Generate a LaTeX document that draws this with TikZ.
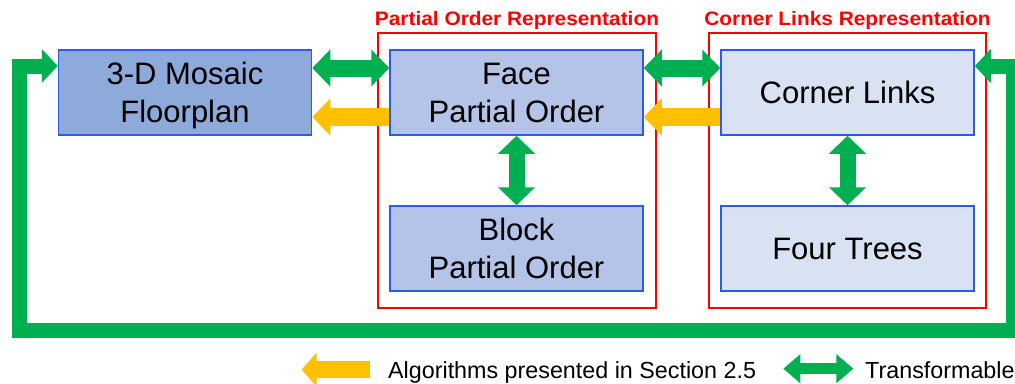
\documentclass[tikz,border=0pt]{standalone}
\usepackage{fontspec}
\setmainfont{Liberation Sans}
\newfontfamily\titlefont[FakeStretch=1.07]{Liberation Sans}
\usetikzlibrary{arrows.meta}

\definecolor{boxblue}{HTML}{2A5CE8}
\definecolor{mosaicfill}{HTML}{8EAADB}
\definecolor{pofill}{HTML}{B4C4E8}
\definecolor{clfill}{HTML}{D9E2F3}
\definecolor{tgreen}{HTML}{00B050}
\definecolor{ayellow}{HTML}{FFC000}
\definecolor{grpred}{HTML}{FF0000}

\tikzset{
  blockbox/.style={draw=boxblue, line width=1.5pt, minimum width=253pt,
    minimum height=85pt, inner sep=0pt, align=center, text depth=0pt,
    font=\fontsize{31}{38}\selectfont},
  groupbox/.style={draw=grpred, line width=1.3pt, inner sep=0pt},
  grouptitle/.style={text=grpred, inner sep=0pt, anchor=base,
    font=\fontsize{19.5}{23}\titlefont\bfseries},
  twoway/.style={draw=tgreen, line width=17pt,
    arrows={Triangle[width=36pt,length=18pt]-Triangle[width=36pt,length=18pt]}},
  oneway/.style={draw=ayellow, line width=18pt,
    arrows={-Triangle[width=36pt,length=18pt]}},
  loopback/.style={draw=tgreen, line width=15pt, line join=miter,
    arrows={Triangle[width=33pt,length=16pt]-Triangle[width=33pt,length=16pt]}},
  legendtext/.style={anchor=base west, inner sep=0pt,
    font=\fontsize{23.3}{28}\selectfont},
}

\begin{document}
\begin{tikzpicture}[x=1pt,y=-1pt]
\useasboundingbox (0,0) rectangle (1015,383);
\clip (0,0) rectangle (1015,383);

% representation groups
\node[groupbox, minimum width=278pt, minimum height=275pt] (pogroup) at (517,170.5) {};
\node[groupbox, minimum width=277pt, minimum height=275pt] (clgroup) at (847.5,170.5) {};
\node[grouptitle] (potitle) at (517,25) {Partial Order Representation};
\node[grouptitle] (cltitle) at (847.5,25) {Corner Links Representation};

% the five data structures
\node[blockbox, fill=mosaicfill] (mosaic) at (185,92.5) {3-D Mosaic\\Floorplan};
\node[blockbox, fill=pofill] (face) at (516.5,92.5) {Face\\Partial Order};
\node[blockbox, fill=pofill] (block) at (516.5,248.5) {Block\\Partial Order};
\node[blockbox, fill=clfill] (corner) at (847.5,92.5) {Corner Links};
\node[blockbox, fill=clfill] (trees) at (847.5,248.5) {Four Trees};

% transformations between representations
\draw[twoway] ([yshift=24.5pt]mosaic.east) -- ([yshift=24.5pt]face.west);
\draw[twoway] ([yshift=24.5pt]face.east) -- ([yshift=24.5pt]corner.west);
\draw[oneway] ([yshift=-24.5pt]face.west) -- ([yshift=-24.5pt]mosaic.east);
\draw[oneway] ([yshift=-24.5pt]corner.west) -- ([yshift=-24.5pt]face.east);
\draw[twoway, line width=16pt] (face.south) -- (block.north);
\draw[twoway, line width=16pt] (corner.south) -- (trees.north);

% outer loop from corner links back to the floorplan
\coordinate (loopNE) at (1013,66);
\coordinate (loopSE) at (1013,330.5);
\coordinate (loopSW) at (19,330.5);
\coordinate (loopNW) at (19,66);
\draw[loopback] ([yshift=26.5pt]corner.east) -- (loopNE) -- (loopSE)
  -- (loopSW) -- (loopNW) -- ([yshift=26.5pt]mosaic.west);

% legend
\coordinate (algA) at (370,369.6);
\coordinate (algB) at (301.7,369.6);
\draw[oneway, line width=17pt, arrows={-Triangle[width=33.5pt,length=15pt]}] (algA) -- (algB);
\node[legendtext] (algtext) at (388,378.3) {Algorithms presented in Section 2.5};
\coordinate (trA) at (783.3,368.7);
\coordinate (trB) at (853.3,368.7);
\draw[twoway, line width=10.5pt,
  arrows={Triangle[width=28pt,length=17pt]-Triangle[width=28pt,length=17pt]}] (trA) -- (trB);
\node[legendtext] (trtext) at (865,378.5) {Transformable};
\end{tikzpicture}
\end{document}
